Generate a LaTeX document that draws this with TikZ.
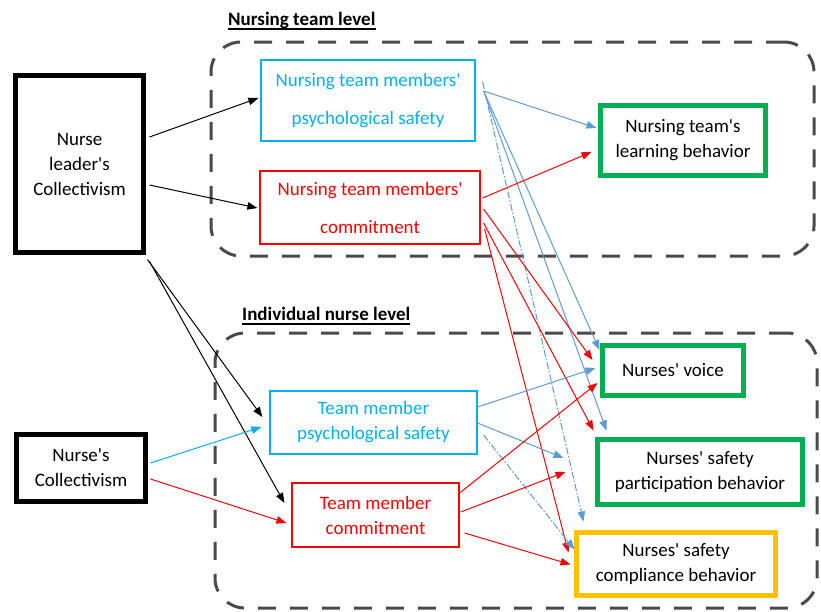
\documentclass[tikz,border=0pt]{standalone}
\usepackage{fontspec}
\setmainfont{Carlito}
\usetikzlibrary{arrows.meta}
\definecolor{cy}{HTML}{00B0F0}
\definecolor{lblue}{HTML}{5B9BD5}
\definecolor{rd}{HTML}{FF0000}
\definecolor{gr}{HTML}{00B050}
\definecolor{gd}{HTML}{FFC000}
\definecolor{dgray}{HTML}{4A4A4A}
\newcommand{\ap}{\textquotesingle}
\begin{document}
\begin{tikzpicture}[x=1pt,y=-1pt,
  font=\fontsize{19}{25}\selectfont,
  thickbox/.style={draw, line width=5pt, rectangle, inner sep=0pt, align=center},
  thinbox/.style={draw, line width=1.2pt, rectangle, inner sep=0pt, align=center},
  arr/.style={-{Triangle[length=10pt,width=7.5pt]}, line width=1pt},
  lb/.style={arr, color=lblue},
  dd/.style={lb, dash pattern=on 7pt off 2pt on 1.5pt off 2pt},
  grp/.style={draw=dgray, line width=3pt, rounded corners=30pt, dash pattern=on 18pt off 14pt, inner sep=0pt},
  ttl/.style={anchor=base west, inner sep=0pt, font=\bfseries\fontsize{19}{24}\selectfont}]
\useasboundingbox (0,0) rectangle (821,611);
% group boxes
\node[grp, minimum width=603, minimum height=214] (teamlvl) at (512.5,149) {};
\node[grp, minimum width=602, minimum height=275] (indlvl) at (516,470.5) {};
% titles
\node[ttl] (t1) at (228,25) {Nursing team level};
\draw[line width=1.3pt] ([yshift=-4pt]t1.base west) -- ([yshift=-4pt]t1.base east);
\node[ttl] (t2) at (242,320) {Individual nurse level};
\draw[line width=1.3pt] ([yshift=-4pt]t2.base west) -- ([yshift=-4pt]t2.base east);
% nodes
\node[thickbox, minimum width=128, minimum height=177] (nlc) at (79.5,164) {Nurse\\leader\ap s\\Collectivism};
\node[thickbox, minimum width=129, minimum height=67] (nc) at (81,468) {Nurse\ap s\\Collectivism};
\node[thinbox, draw=cy, text=cy, minimum width=214, minimum height=81, font=\fontsize{19}{38}\selectfont] (tps) at (368,100.5) {Nursing team members\ap\\psychological safety};
\node[thinbox, draw=rd, text=rd, minimum width=220, minimum height=73, font=\fontsize{19}{38}\selectfont] (tcm) at (370,207.5) {Nursing team members\ap\\commitment};
\node[thickbox, draw=gr, minimum width=165, minimum height=70] (learn) at (683,140.5) {Nursing team\ap s\\learning behavior};
\node[thinbox, draw=cy, text=cy, minimum width=207, minimum height=63] (ips) at (373.5,422.5) {Team member\\psychological safety};
\node[thinbox, draw=rd, text=rd, minimum width=167, minimum height=64] (icm) at (375.5,515) {Team member\\commitment};
\node[thickbox, draw=gr, minimum width=141, minimum height=50] (voice) at (673,370.5) {Nurses\ap{} voice};
\node[thickbox, draw=gr, minimum width=205, minimum height=65] (part) at (700,472) {Nurses\ap{} safety\\participation behavior};
\node[thickbox, draw=gd, minimum width=199, minimum height=63] (comp) at (676,564) {Nurses\ap{} safety\\compliance behavior};
% black arrows
\draw[arr] ([shift={(3.5,-27)}]nlc.east) -- ([shift={(-2,-2.5)}]tps.west);
\draw[arr] ([shift={(3.5,21)}]nlc.east) -- ([shift={(-2,0.5)}]tcm.west);
\draw[arr] ([shift={(1.5,4.5)}]nlc.south east) -- ([shift={(-7,-5.5)}]ips.west);
\draw[arr] ([shift={(3.5,6.5)}]nlc.south east) -- ([shift={(-7,-12)}]icm.west);
\draw[arr, cy] ([shift={(2.5,-5)}]nc.east) -- ([shift={(-8,4.5)}]ips.west);
\draw[arr, rd] ([shift={(2.5,11)}]nc.east) -- ([shift={(-5,8)}]icm.west);
% team psychological safety
\draw[lb] ([shift={(8,-9.5)}]tps.east) -- ([shift={(-1.5,-12.5)}]learn.west);
\draw[lb] ([shift={(8,-9.5)}]tps.east) -- ([shift={(-0.5,-20.5)}]voice.west);
\draw[lb] ([shift={(8,-9.5)}]tps.east) -- ([shift={(11.5,-6.5)}]part.north west);
\draw[dd] ([shift={(7,-18.5)}]tps.east) -- ([shift={(9.5,-8.5)}]comp.north west);
% team commitment
\draw[arr, rd] ([shift={(2,-9.5)}]tcm.east) -- ([shift={(-6.5,11.5)}]learn.west);
\draw[arr, rd] ([shift={(3,1.5)}]tcm.east) -- ([shift={(-7.5,-10.5)}]voice.west);
\draw[arr, rd] ([shift={(3,15.5)}]tcm.east) -- ([shift={(-1.5,-6.5)}]part.north west);
\draw[arr, rd] ([shift={(4,21.5)}]tcm.east) -- ([shift={(-5.5,22.5)}]comp.north west);
% individual psychological safety
\draw[lb] ([shift={(0,-15.5)}]ips.east) -- ([shift={(-4.5,-2.5)}]voice.west);
\draw[lb] ([shift={(0,0.5)}]ips.east) -- ([shift={(-31.5,-14)}]part.west);
\draw[dd] ([shift={(6,12.5)}]ips.east) -- ([shift={(0.5,19.5)}]comp.north west);
% individual commitment
\draw[arr, rd] ([shift={(0,-22)}]icm.east) -- ([shift={(-2.5,12.5)}]voice.west);
\draw[arr, rd] ([shift={(1,-3)}]icm.east) -- ([shift={(-29.5,0)}]part.west);
\draw[arr, rd] ([shift={(5,18)}]icm.east) -- ([shift={(-3.5,34.5)}]comp.north west);
\end{tikzpicture}
\end{document}
